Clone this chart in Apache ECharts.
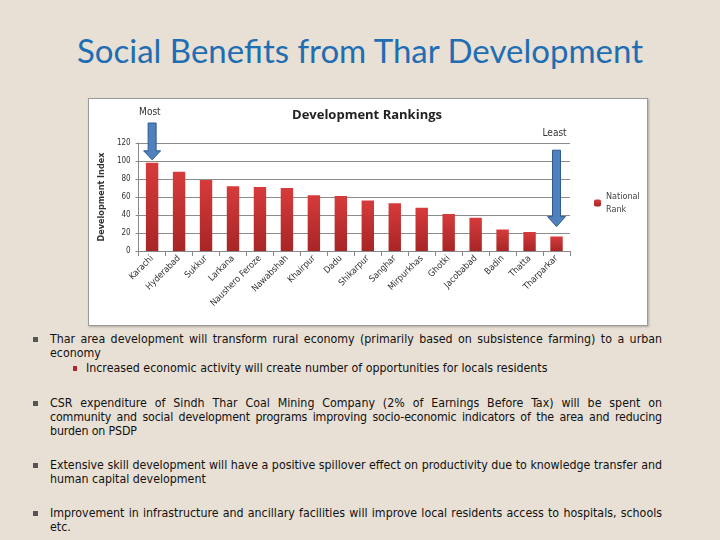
<!DOCTYPE html>
<html>
<head>
<meta charset="utf-8">
<script src="https://cdn.jsdelivr.net/npm/echarts@6/dist/echarts.min.js"></script>
<style>
  html, body { margin: 0; padding: 0; }
  body {
    width: 720px; height: 540px; overflow: hidden; position: relative;
    background: #e8e0d4;
  }
  #title {
    position: absolute; left: 0; top: 30px; width: 720px; text-align: center;
    font-family: Lato, 'Open Sans', sans-serif; font-size: 33px; color: #1f6db3;
  }
  #chartBox {
    position: absolute; left: 88px; top: 98px; width: 558px; height: 226px;
    background: #fff; border: 1px solid #9a9a9a;
    box-shadow: 1px 1px 2px rgba(0,0,0,0.25);
  }
  #myChart { width: 558px; height: 226px; }
  .bullets {
    position: absolute; left: 32px; top: 332px; width: 630px;
    font-family: 'Liberation Sans Narrow', 'DejaVu Sans Condensed', sans-serif;
    font-size: 12.3px; line-height: 14px; color: #111;
  }
  .b { position: relative; padding-left: 18px; text-align: justify; margin-bottom: 20px; }
  .b::before {
    content: ''; position: absolute; left: 1px; top: 5px; width: 5px; height: 5px; background: #555;
  }
  .sub { position: relative; padding-left: 36px; margin-top: 1px; }
  .sub::before {
    content: ''; position: absolute; left: 23px; top: 5px; width: 4px; height: 5px; background: #b0282b;
  }
</style>
</head>
<body>
<div id="title">Social Benefits from Thar Development</div>
<div id="chartBox"><div id="myChart"></div></div>
<div class="bullets">
  <div class="b">Thar area development will transform rural economy (primarily based on subsistence farming) to a urban economy
    <div class="sub">Increased economic activity will create number of opportunities for locals residents</div>
  </div>
  <div class="b" style="margin-top:21px"><span style="word-spacing:1px">CSR expenditure of Sindh Thar Coal Mining Company (2% of Earnings Before Tax) will be spent on</span> <span style="letter-spacing:-0.15px">community and social development programs improving socio-economic indicators of the area and reducing burden on PSDP</span></div>
  <div class="b">Extensive skill development will have a positive spillover effect on productivity due to knowledge transfer and human capital development</div>
  <div class="b">Improvement in infrastructure and ancillary facilities will improve local residents access to hospitals, schools etc.</div>
</div>
<script>
// data
var districts = ['Karachi', 'Hyderabad', 'Sukkur', 'Larkana', 'Naushero Feroze', 'Nawabshah', 'Khairpur', 'Dadu',
  'Shikarpur', 'Sanghar', 'Mirpurkhas', 'Ghotki', 'Jacobabad', 'Badin', 'Thatta', 'Tharparkar'];
var nationalRank = [98, 88, 79, 72, 71, 70, 62, 61, 56, 53, 48, 41, 37, 24, 21, 16];
var yMin = 0, yMax = 120, yStep = 20;

var dom = document.getElementById('myChart');
var myChart = echarts.init(dom);

var barColor = new echarts.graphic.LinearGradient(0, 0, 0, 1, [
  { offset: 0, color: '#d73b3b' },
  { offset: 1, color: '#a82526' }
]);

var option = {
  animation: false,
  title: {
    text: 'Development Rankings',
    left: 273, top: 5, textAlign: 'center',
    textStyle: { fontFamily: 'Open Sans', fontSize: 13, fontWeight: 'bold', color: '#222' }
  },
  legend: {
    left: 500, top: 86, orient: 'vertical',
    itemWidth: 7, itemHeight: 7,
    formatter: function () { return 'National\nRank'; },
    textStyle: { fontFamily: 'DejaVu Sans Condensed', fontSize: 9, color: '#444', lineHeight: 13 }
  },
  grid: { left: 42, right: 77, top: 44, bottom: 74 },
  xAxis: {
    type: 'category',
    data: districts,
    axisLine: { lineStyle: { color: '#888' } },
    axisTick: { show: true, lineStyle: { color: '#888' } },
    axisLabel: { rotate: 45, fontSize: 9, fontFamily: 'DejaVu Sans Condensed', color: '#333', margin: 6 }
  },
  yAxis: {
    type: 'value',
    min: yMin, max: yMax, interval: yStep,
    name: 'Development Index',
    nameLocation: 'middle', nameGap: 25, nameRotate: 90,
    nameTextStyle: { fontFamily: 'DejaVu Sans Condensed', fontSize: 9, fontWeight: 'bold', color: '#333' },
    axisLine: { show: true, lineStyle: { color: '#888' } },
    axisTick: { show: true, length: 3, lineStyle: { color: '#888' } },
    axisLabel: { fontSize: 8, fontFamily: 'DejaVu Sans Condensed', color: '#333', margin: 8 },
    splitLine: { lineStyle: { color: '#8c8c8c' } }
  },
  series: [{
    name: 'National Rank',
    type: 'bar',
    barWidth: '46%',
    itemStyle: { color: barColor },
    data: nationalRank
  }]
};
myChart.setOption(option);

// blue arrows marking the most and least developed districts
function arrow(cx, yTop, yTip, shaftW, headW, headH) {
  return {
    type: 'polygon',
    shape: { points: [
      [cx - shaftW / 2, yTop], [cx + shaftW / 2, yTop], [cx + shaftW / 2, yTip - headH],
      [cx + headW / 2, yTip - headH], [cx, yTip], [cx - headW / 2, yTip - headH], [cx - shaftW / 2, yTip - headH]
    ] },
    style: { fill: '#4f81bd', stroke: '#30598f', lineWidth: 1 },
    z: 10
  };
}
var first = myChart.convertToPixel({ gridIndex: 0 }, [districts[0], nationalRank[0]]);
var last = myChart.convertToPixel({ gridIndex: 0 }, [districts[districts.length - 1], nationalRank[nationalRank.length - 1]]);
var topPx = myChart.convertToPixel({ yAxisIndex: 0 }, 112);
myChart.setOption({
  graphic: [
    arrow(first[0], 24, first[1] - 3, 8, 17, 9),
    arrow(last[0], topPx, last[1] - 10, 8, 18, 10),
    { type: 'text', left: first[0] - 13, top: 8,
      style: { text: 'Most', fontFamily: 'DejaVu Sans Condensed', fontSize: 10, fill: '#333' } },
    { type: 'text', left: last[0] - 14, top: 29,
      style: { text: 'Least', fontFamily: 'DejaVu Sans Condensed', fontSize: 10, fill: '#333' } }
  ]
});

window.addEventListener('resize', myChart.resize);
</script>
</body>
</html>
